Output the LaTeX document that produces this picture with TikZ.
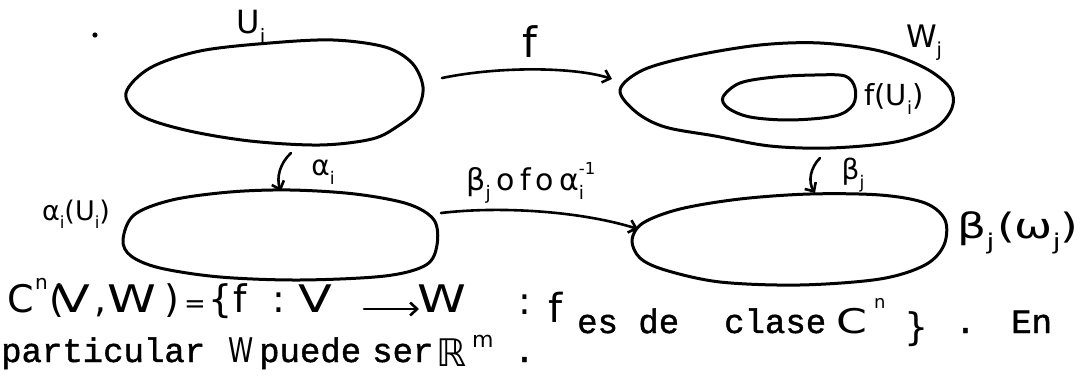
\documentclass[tikz,border=0pt]{standalone}
\usepackage{fontspec}
\usepackage{graphicx}
\setmainfont{DejaVu Sans}
\newfontfamily\tw[FakeBold=1.3]{Liberation Mono}
\usetikzlibrary{arrows.meta}
\newcommand\hsz[1]{\fontsize{#1}{#1}\selectfont}
\newcommand\sbs[1]{\raisebox{-0.3em}{\scalebox{0.62}{#1}}}
\newcommand\sps[1]{\raisebox{0.55em}{\scalebox{0.55}{#1}}}
\newcommand\sbsp[2]{\rlap{\sbs{#1}}\sps{#2}}
\newcommand\wide[1]{\scalebox{1.3}[1]{#1}}
\begin{document}
\begin{tikzpicture}[x=1pt,y=-1pt,
  blob/.style={draw, line width=3pt, line join=round},
  conn/.style={draw, line width=2.6pt, line cap=round, -{Straight Barb[length=7pt,width=13pt]}},
  lab/.style={inner sep=0pt},
  hand/.style={inner sep=0pt, anchor=base west, font=\hsz{38}},
  type/.style={inner sep=0pt, anchor=base west, font=\tw\hsz{34}}]
\useasboundingbox (0,0) rectangle (1085,385);

% dot
\fill (95,35) circle (2.6pt);

% U_i
\draw[blob] plot[smooth cycle, tension=0.55] coordinates {(126,93) (150,68) (200,51) (270,43) (333,40) (385,47) (412,63) (423,87) (417,110) (398,126) (372,139) (320,145) (250,141) (185,130) (140,115)};
% W_j
\draw[blob] plot[smooth cycle, tension=0.55] coordinates {(620,90) (643,70) (693,56) (760,45) (820,43) (880,51) (925,68) (950,88) (952,108) (935,128) (895,142) (830,148) (770,146) (715,136) (665,127) (636,112)};
% f(U_i)
\draw[blob] plot[smooth cycle, tension=0.55] coordinates {(723,97) (740,83) (775,77) (815,75) (845,76) (855,88) (853,105) (835,116) (790,120) (750,117) (728,108)};
% alpha_i(U_i)
\draw[blob] plot[smooth cycle, tension=0.55] coordinates {(123,240) (134,215) (172,200) (230,192) (290,190) (355,194) (408,204) (434,220) (437,245) (426,265) (385,276) (300,280) (220,277) (160,268) (131,256)};
% beta_j(W_j)
\draw[blob] plot[smooth cycle, tension=0.55] coordinates {(632,240) (643,223) (680,209) (740,199) (810,194) (880,195) (925,203) (945,220) (944,245) (925,265) (880,279) (800,285) (720,282) (665,270) (640,258)};

% connectors
\coordinate (UiE) at (442,78);
\coordinate (WjW) at (612,79);
\draw[conn] (UiE) .. controls (500,66) and (575,67) .. (WjW);

\coordinate (UiS) at (291,153);
\coordinate (aUiN) at (281,191);
\draw[conn] (UiS) .. controls (280,163) and (276,178) .. (aUiN);

\coordinate (WjS) at (820,158);
\coordinate (bWjN) at (815,193);
\draw[conn] (WjS) .. controls (810,168) and (808,182) .. (bWjN);

\coordinate (aUiE) at (441,213);
\coordinate (bWjW) at (638,229);
\draw[conn] (aUiE) .. controls (500,206) and (580,211) .. (bWjW);

% labels
\node[lab, font=\hsz{32}] (lUi) at (251,27) {U\sbs{i}};
\node[lab, font=\hsz{42}] (lf) at (530,42) {f};
\node[lab, font=\hsz{31}] (lWj) at (924,43) {W\sbs{j}};
\node[lab, font=\hsz{29}] (lfUi) at (894,99) {f(U\sbs{i})};
\node[lab, font=\hsz{28}] (lai) at (323,172) {α\sbs{i}};
\node[lab, font=\hsz{30}] (lcomp) at (531,183) {β\sbs{j}\hspace{6pt}o\hspace{5pt}f\hspace{5pt}o\hspace{5pt}α\sbsp{i}{-1}};
\node[lab, font=\hsz{28}] (lbj) at (853,175) {β\sbs{j}};
\node[lab, font=\hsz{27}] (laiUi) at (76,214) {α\sbs{i}(U\sbs{i})};
\node[lab, font=\hsz{35}] (lbjWj) at (1018,233) {\scalebox{1.3}[1]{β\sbs{j}\hspace{2pt}(ω\sbs{j})}};

% line 1, handwritten part
\node[hand] (h1) at (7,312) {C};
\node[hand, font=\hsz{20}] (h2) at (35,289) {n};
\node[hand] (h3) at (49,312) {(};
\node[hand] (h4) at (56,312) {\wide{V}};
\node[hand] (h5) at (94,312) {,};
\node[hand] (h6) at (107,312) {\wide{W}};
\node[hand] (h7) at (164,312) {)};
\node[hand, font=\hsz{26}] (h8) at (184,312) {=};
\node[hand] (h9) at (208,312) {\{};
\node[hand] (h10) at (233,312) {f};
\node[hand] (h11) at (272,312) {:};
\node[hand] (h12) at (298,312) {\wide{V}};
\coordinate (arS) at (364,309);
\coordinate (arE) at (419,309);
\draw[conn] (arS) -- (arE);
\node[hand] (h14) at (417,312) {\wide{W}};
\node[hand] (h15) at (518,314) {:};
\node[hand, font=\hsz{40}] (h16) at (548,322) {f};
% line 1, typed part
\node[type] (t1) at (577,333) {es de};
\node[type] (t2) at (724,333) {clase};
\node[hand, font=\hsz{34}] (h17) at (836,333) {\wide{C}};
\node[hand, font=\hsz{18}] (h18) at (874,308) {n};
\node[hand, font=\hsz{38}] (h19) at (904,340) {\}};
\node[type] (t3) at (955,333) {.};
\node[type] (t4) at (1011,333) {En};
% line 2
\node[type] (t5) at (1,362) {particular};
\node[hand, font=\hsz{34}] (h20) at (228,362) {\scalebox{0.75}[1]{W}};
\node[type] (t6) at (259,362) {puede};
\node[type] (t7) at (372,362) {ser};
\node[hand, font=\hsz{38}] (h21) at (436,366) {ℝ};
\node[hand, font=\hsz{22}] (h22) at (472,347) {m};
\node[type] (t8) at (514,362) {.};
\end{tikzpicture}
\end{document}
